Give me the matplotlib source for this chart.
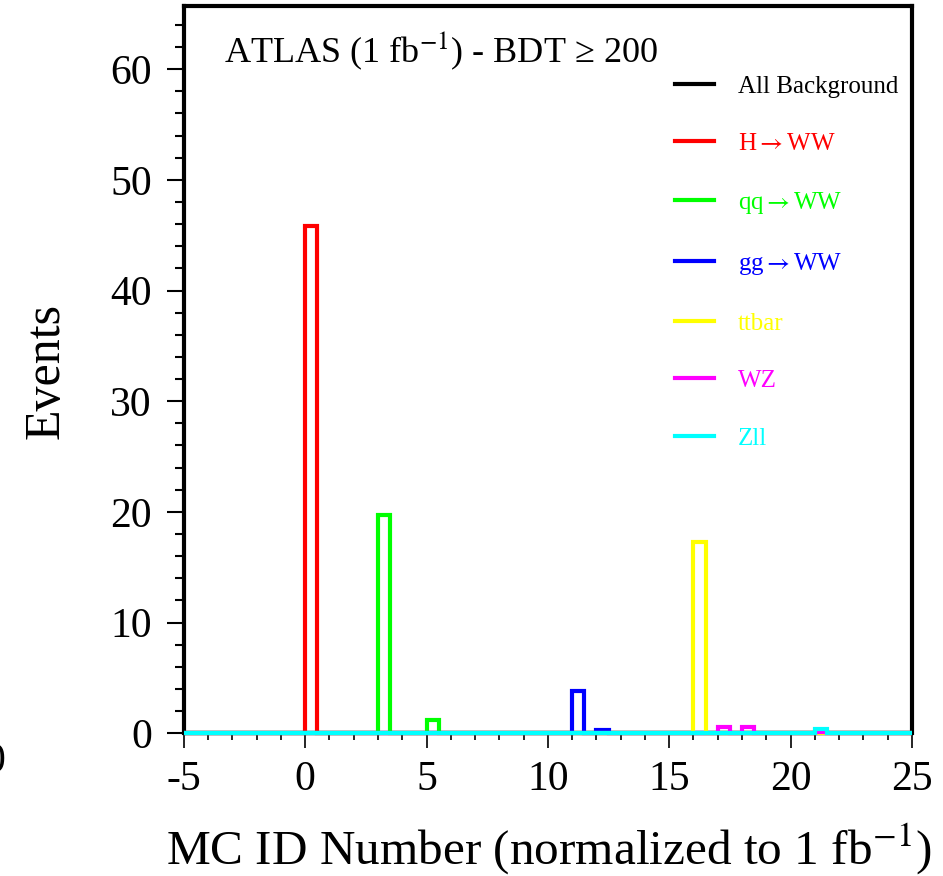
import numpy as np
import matplotlib.pyplot as plt
from matplotlib.lines import Line2D
from matplotlib.ticker import MultipleLocator

serif = ['Liberation Serif', 'DejaVu Serif']
plt.rcParams['font.family'] = serif
plt.rcParams['mathtext.fontset'] = 'stix'

# MC sample id -> normalized events, one list pair per sample
bkg_ids, bkg_vals = [], []
hww_ids, hww_vals = [0], [45.8]
qqww_ids, qqww_vals = [3, 5], [19.7, 1.15]
ggww_ids, ggww_vals = [11, 12], [3.8, 0.3]
ttbar_ids, ttbar_vals = [16], [17.3]
wz_ids, wz_vals = [17, 18, 21], [0.6, 0.6, 0.12]
zll_ids, zll_vals = [21], [0.35]

labels = ['All Background', r'H$\rightarrow$WW', r'qq$\rightarrow$WW', r'gg$\rightarrow$WW',
          'ttbar', 'WZ', 'Zll']
colors = ['black', '#ff0000', '#00ff00', '#0000ff', '#ffff00', '#ff00ff', '#00ffff']
samples = [(bkg_ids, bkg_vals), (hww_ids, hww_vals), (qqww_ids, qqww_vals),
           (ggww_ids, ggww_vals), (ttbar_ids, ttbar_vals), (wz_ids, wz_vals),
           (zll_ids, zll_vals)]

edges = np.arange(-5, 25.001, 0.5)

fig = plt.figure(figsize=(9.43, 8.76), dpi=100)
ax = fig.add_axes([0.195, 0.163, 0.772, 0.830])

for (ids, vals), c in zip(samples, colors):
    counts, _ = np.histogram(np.array(ids, dtype=float) + 0.01, bins=edges, weights=vals)
    ax.stairs(counts, edges, color=c, lw=3, zorder=3, clip_on=False)

ax.set_xlim(-5, 25)
ax.set_ylim(0, 65.7)

ax.xaxis.set_major_locator(MultipleLocator(5))
ax.xaxis.set_minor_locator(MultipleLocator(1))
ax.yaxis.set_major_locator(MultipleLocator(10))
ax.yaxis.set_minor_locator(MultipleLocator(2))

for s in ax.spines.values():
    s.set_linewidth(3)
ax.spines['bottom'].set_linewidth(1)

ax.tick_params(axis='y', which='major', direction='out', length=12, width=1.5, pad=11, labelsize=30)
ax.tick_params(axis='y', which='minor', direction='out', length=6.5, width=1.5)
ax.tick_params(axis='x', which='major', direction='out', length=11, width=1.2, pad=9, labelsize=30)
ax.tick_params(axis='x', which='minor', direction='out', length=5, width=1.2)
ax.xaxis.set_major_formatter(plt.FuncFormatter(lambda v, p: f'{v:.0f}'))
ax.yaxis.set_major_formatter(plt.FuncFormatter(lambda v, p: f'{v:.0f}'))

ax.text(0.055, 0.938, 'ATLAS (1 fb$^{\\mathrm{-1}}$) - BDT \u2265 200', transform=ax.transAxes,
        fontsize=26, ha='left', va='center')

handles = [Line2D([], [], color=c, lw=3) for c in colors]
leg = ax.legend(handles, labels, loc='upper left', bbox_to_anchor=(0.675, 0.905),
                frameon=False, fontsize=18, handlelength=1.55, handletextpad=0.95,
                labelspacing=1.4, borderpad=0, borderaxespad=0)
for t, c in zip(leg.get_texts(), colors):
    t.set_color(c)

fig.text(0.049, 0.577, 'Events', rotation=90, fontsize=36, ha='center', va='center')
fig.text(0.582, 0.03, 'MC ID Number (normalized to 1 fb$^{\\mathrm{-1}}$)', fontsize=35.5,
         ha='center', va='center')
# clipped label from a neighbouring panel at the left edge
fig.text(0.006, 0.13, '0', fontsize=30, ha='right', va='center')

fig.savefig('out.png', dpi=100)
